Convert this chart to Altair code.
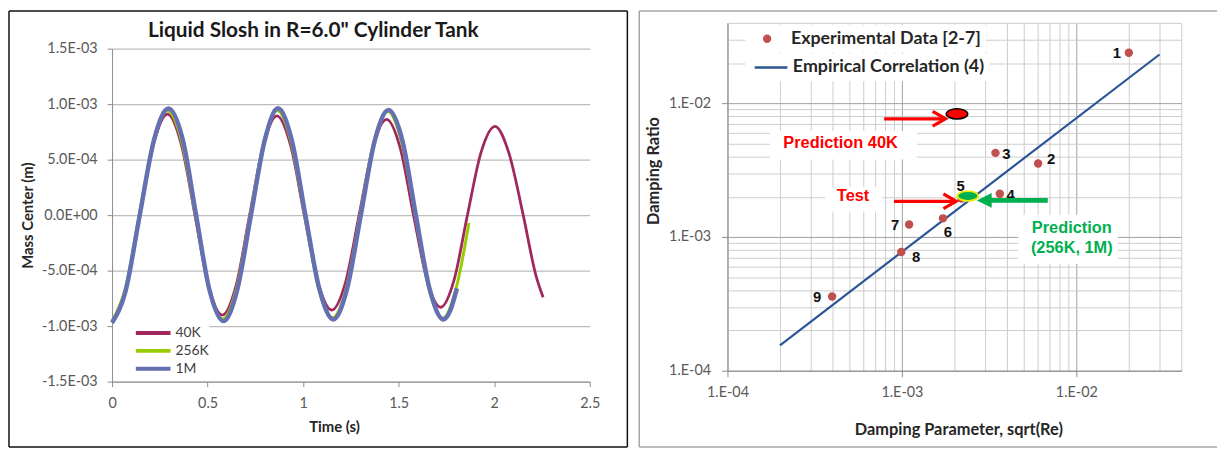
import altair as alt
import pandas as pd

# ================= Left panel: liquid slosh time histories =================
left_title = 'Liquid Slosh in R=6.0" Cylinder Tank'
series_names = ["40K", "256K", "1M"]
series_colors = ["#A0285F", "#99CC00", "#6470B2"]

t_40k = [0.0, 0.07, 0.145, 0.218, 0.29, 0.362, 0.434, 0.505, 0.577, 0.649, 0.72,
         0.792, 0.863, 0.935, 1.006, 1.078, 1.15, 1.222, 1.293, 1.365, 1.437, 1.508,
         1.578, 1.649, 1.72, 1.79, 1.86, 1.932, 2.004, 2.076, 2.152, 2.218, 2.256]
m_40k = [-9.65e-4, -6.8e-4, 0.0, 6.45e-4, 9.1e-4, 6.4e-4, 0.0, -6.35e-4, -9.0e-4, -6.35e-4, 0.0,
         6.3e-4, 8.95e-4, 6.25e-4, 0.0, -6.05e-4, -8.55e-4, -6.05e-4, 0.0, 6.1e-4, 8.62e-4, 6.05e-4,
         0.0, -5.9e-4, -8.3e-4, -5.85e-4, 0.0, 5.7e-4, 8.0e-4, 5.65e-4, 0.0, -5.4e-4, -7.4e-4]

t_256k = [0.0, 0.068, 0.142, 0.216, 0.29, 0.364, 0.436, 0.507, 0.579, 0.651, 0.723,
          0.795, 0.864, 0.936, 1.008, 1.08, 1.153, 1.226, 1.298, 1.37, 1.442, 1.515,
          1.587, 1.658, 1.73, 1.80, 1.868]
m_256k = [-9.55e-4, -6.7e-4, 0.0, 6.65e-4, 9.4e-4, 6.65e-4, 0.0, -6.6e-4, -9.35e-4, -6.6e-4, 0.0,
          6.65e-4, 9.42e-4, 6.65e-4, 0.0, -6.55e-4, -9.25e-4, -6.55e-4, 0.0, 6.6e-4, 9.35e-4, 6.6e-4,
          0.0, -6.6e-4, -9.3e-4, -6.65e-4, -7.0e-5]

t_1m = [0.0, 0.07, 0.145, 0.22, 0.295, 0.37, 0.44, 0.51, 0.583, 0.655, 0.727,
        0.80, 0.868, 0.94, 1.012, 1.085, 1.158, 1.23, 1.302, 1.375, 1.447, 1.52,
        1.59, 1.662, 1.735, 1.77, 1.805]
m_1m = [-9.7e-4, -6.9e-4, 0.0, 6.8e-4, 9.6e-4, 6.8e-4, 0.0, -6.75e-4, -9.55e-4, -6.75e-4, 0.0,
        6.8e-4, 9.62e-4, 6.8e-4, 0.0, -6.65e-4, -9.4e-4, -6.65e-4, 0.0, 6.7e-4, 9.47e-4, 6.7e-4,
        0.0, -6.65e-4, -9.4e-4, -8.6e-4, -6.6e-4]

time_ticks = [0, 0.5, 1, 1.5, 2, 2.5]
time_tick_labels = ["0", "0.5", "1", "1.5", "2", "2.5"]
mass_ticks = [-0.0015, -0.001, -0.0005, 0.0, 0.0005, 0.001, 0.0015]
mass_tick_labels = ["-1.5E-03", "-1.0E-03", "-5.0E-04", "0.0E+00", "5.0E-04", "1.0E-03", "1.5E-03"]

# ================= Right panel: damping ratio vs parameter =================
exp_name = "Experimental Data [2-7]"
corr_name = "Empirical Correlation (4)"
exp_labels = ["1", "2", "3", "4", "5", "6", "7", "8", "9"]
exp_param = [0.0200, 6.04e-3, 3.44e-3, 3.64e-3, 2.20e-3, 1.72e-3, 1.10e-3, 9.92e-4, 3.98e-4]
exp_ratio = [0.0239, 3.55e-3, 4.26e-3, 2.11e-3, 1.94e-3, 1.38e-3, 1.24e-3, 7.72e-4, 3.59e-4]
corr_param = [2.0e-4, 3.0e-2]
corr_ratio = [1.55e-4, 2.32e-2]

pred40k_param = [2.07e-3]
pred40k_ratio = [8.34e-3]
pred256_param = [2.39e-3]
pred256_ratio = [2.03e-3]

log_ticks = [1e-4, 2e-4, 3e-4, 4e-4, 5e-4, 6e-4, 7e-4, 8e-4, 9e-4,
             1e-3, 2e-3, 3e-3, 4e-3, 5e-3, 6e-3, 7e-3, 8e-3, 9e-3,
             1e-2, 2e-2, 3e-2, 4e-2]
decade_ticks = [1e-4, 1e-3, 1e-2]
decade_labels = ["1.E-04", "1.E-03", "1.E-02"]

# annotation texts (centres, data units)
note_text = ["Prediction 40K", "Test", "Prediction", "(256K, 1M)"]
note_x = [4.45e-4, 5.25e-4, 9.42e-3, 9.42e-3]
note_y = [5.07e-3, 2.01e-3, 1.165e-3, 8.30e-4]
note_color = ["red", "red", "green", "green"]

# white boxes behind the annotation texts
box_x1 = [1.75e-4, 3.63e-4, 4.65e-3]
box_x2 = [1.22e-3, 7.74e-4, 1.73e-2]
box_y1 = [6.22e-3, 2.36e-3, 1.47e-3]
box_y2 = [3.80e-3, 1.55e-3, 6.29e-4]

# arrows: start, shaft end, tip, level
arrow_kind = ["red", "red", "green"]
arrow_x0 = [7.91e-4, 9.01e-4, 6.86e-3]
arrow_x1 = [1.75e-3, 2.02e-3, 3.06e-3]
arrow_tip = [1.78e-3, 2.05e-3, 2.69e-3]
arrow_y = [7.66e-3, 1.85e-3, 1.88e-3]

label_offsets = {"1": (-12, 0), "2": (13, -4), "3": (11, 1), "4": (11, 1), "5": (-1, -13),
                 "6": (5, 14), "7": (-14, 0), "8": (15, 5), "9": (-15, 1)}

# ---------------------------------------------------------------------------
FONT = "Lato"
ANN_FONT = "Liberation Sans"


def label_expr(vals, labels, tol):
    parts = [f"abs(datum.value - ({v!r})) < {tol} ? '{lab}'" for v, lab in zip(vals, labels)]
    return " : ".join(parts) + " : ''"


def log_label_expr(vals, labels):
    parts = [f"abs(datum.value / ({v!r}) - 1) < 1e-6 ? '{lab}'" for v, lab in zip(vals, labels)]
    return " : ".join(parts) + " : ''"


one = pd.DataFrame({"k": [0]})


def rule(color, width, **enc):
    return alt.Chart(one).mark_rule(color=color, strokeWidth=width).encode(
        **{k: alt.value(v) for k, v in enc.items()})


# ---------------- left chart ----------------
left_df = pd.concat([
    pd.DataFrame({"t": t_40k, "m": m_40k, "series": "40K"}),
    pd.DataFrame({"t": t_256k, "m": m_256k, "series": "256K"}),
    pd.DataFrame({"t": t_1m, "m": m_1m, "series": "1M"}),
], ignore_index=True)

LW, LH = 482, 362
xs_l = alt.Scale(domain=[0, 2.5], nice=False, zero=False)
ys_l = alt.Scale(domain=[-0.0015, 0.0015], range=[LH, 26], nice=False, zero=False)
axis_gray = "#8C8C8C"

x_axis_l = alt.Axis(values=time_ticks, labelExpr=label_expr(time_ticks, time_tick_labels, 1e-6),
                    title="Time (s)", grid=False, tickSize=5, tickColor=axis_gray,
                    domainColor=axis_gray, labelFont=FONT, labelFontSize=14.5, labelColor="#595959",
                    labelPadding=10, labelFlush=False, labelOverlap=False,
                    titleFont=FONT, titleFontSize=15, titleFontWeight="bold", titleColor="#262626",
                    titleX=224, titleY=45, titleBaseline="middle")
y_axis_l = alt.Axis(values=mass_ticks, labelExpr=label_expr(mass_ticks, mass_tick_labels, 1e-8),
                    title="Mass Center (m)", grid=True, gridColor="#BDBDBD", gridWidth=1.2,
                    tickSize=5, tickColor=axis_gray, domainColor=axis_gray,
                    labelFont=FONT, labelFontSize=14.5, labelColor="#595959", labelPadding=10,
                    labelOverlap=False, titleFont=FONT, titleFontSize=15, titleFontWeight="bold",
                    titleColor="#262626", titleX=-85, titleY=194, titleBaseline="middle")

left_legend = alt.Legend(orient="none", legendX=1, legendY=305, title=None, fillColor="white",
                         padding=0, symbolType="stroke", symbolSize=1225, symbolStrokeWidth=4,
                         clipHeight=16, rowPadding=2, symbolOffset=21, labelOffset=3,
                         labelFont=FONT, labelFontSize=14, labelColor="#404040",
                         labelExpr="datum.label + '\u00a0\u00a0\u00a0\u00a0\u00a0'")
color_l = alt.Color("series:N", scale=alt.Scale(domain=series_names, range=series_colors),
                    legend=left_legend)


def slosh_line(name, width):
    return alt.Chart(left_df).transform_filter(alt.datum.series == name).mark_line(
        strokeWidth=width, interpolate="monotone", strokeJoin="round").encode(
        x=alt.X("t:Q", scale=xs_l, axis=x_axis_l),
        y=alt.Y("m:Q", scale=ys_l, axis=y_axis_l),
        color=color_l,
    )


left_title_mark = alt.Chart(one).mark_text(
    text=left_title, font=FONT, fontSize=21, fontWeight="bold", color="#1A1A1A",
    align="center", baseline="alphabetic").encode(x=alt.value(203), y=alt.value(14))

left = alt.layer(
    rule("#111111", 1.5, x=-104, y=-12, y2=428),
    rule("#111111", 1.5, x=520, y=-12, y2=428),
    rule("#111111", 1.5, x=-104, x2=520, y=-12),
    rule("#111111", 1.5, x=-104, x2=520, y=428),
    slosh_line("40K", 2.8),
    slosh_line("256K", 3.0),
    slosh_line("1M", 4.5),
    left_title_mark,
).properties(width=LW, height=LH)

# ---------------- right chart ----------------
RW, RH = 458, 351
RIGHT_ORIGIN = 619  # right view origin, measured from the left view origin
xs_r = alt.Scale(type="log", domain=[1e-4, 0.04], nice=False)
ys_r = alt.Scale(type="log", domain=[1e-4, 0.04], nice=False)
decade_test = "abs(log(datum.value)/LN10 - round(log(datum.value)/LN10)) < 0.001"
grid_col = {"condition": {"test": decade_test, "value": "#A0A0A0"}, "value": "#CCCCCC"}
tick_col = {"condition": {"test": decade_test, "value": axis_gray}, "value": "transparent"}

x_axis_r = alt.Axis(values=log_ticks, labelExpr=log_label_expr(decade_ticks, decade_labels),
                    title="Damping Parameter, sqrt(Re)", grid=True, gridColor=grid_col,
                    tickColor=tick_col, tickSize=6, domainColor=axis_gray,
                    labelFont=FONT, labelFontSize=14.5, labelColor="#595959", labelPadding=9,
                    labelFlush=False, labelOverlap=False,
                    titleFont=FONT, titleFontSize=16.5, titleFontWeight="bold", titleColor="#262626",
                    titleX=233, titleY=59, titleBaseline="middle")
y_axis_r = alt.Axis(values=log_ticks, labelExpr=log_label_expr(decade_ticks, decade_labels),
                    title="Damping Ratio", grid=True, gridColor=grid_col,
                    tickColor=tick_col, tickSize=6, domainColor=axis_gray,
                    labelFont=FONT, labelFontSize=14.5, labelColor="#595959", labelPadding=11,
                    labelOverlap=False,
                    titleFont=FONT, titleFontSize=16.5, titleFontWeight="bold", titleColor="#262626",
                    titleX=-75, titleY=149, titleBaseline="middle")


def X(field):
    return alt.X(f"{field}:Q", scale=xs_r, axis=x_axis_r)


def Y(field):
    return alt.Y(f"{field}:Q", scale=ys_r, axis=y_axis_r)


exp_df = pd.DataFrame({"x": exp_param, "y": exp_ratio, "label": exp_labels, "series": exp_name})
corr_df = pd.DataFrame({"x": corr_param, "y": corr_ratio, "series": corr_name})
box_df = pd.DataFrame({"x": box_x1, "x2": box_x2, "y": box_y1, "y2": box_y2})
note_df = pd.DataFrame({"x": note_x, "y": note_y, "text": note_text, "c": note_color})
arrow_df = pd.DataFrame({"x": arrow_x0, "x2": arrow_x1, "tip": arrow_tip, "y": arrow_y,
                         "kind": arrow_kind})
p40_df = pd.DataFrame({"x": pred40k_param, "y": pred40k_ratio})
p256_df = pd.DataFrame({"x": pred256_param, "y": pred256_ratio})

exp_legend = alt.Legend(orient="none", legendX=RIGHT_ORIGIN + 20, legendY=2, title=None,
                        fillColor="white", padding=5, symbolType="circle", symbolSize=70,
                        clipHeight=18, symbolOffset=8, labelOffset=15, labelLimit=400,
                        labelFont=FONT, labelFontSize=18, labelFontWeight="bold",
                        labelColor="#262626", labelExpr="datum.label + '\u00a0'")
corr_legend = alt.Legend(orient="none", legendX=RIGHT_ORIGIN + 20, legendY=31, title=None,
                         fillColor="white", padding=5, symbolType="stroke", symbolSize=1089,
                         symbolStrokeWidth=2.5, clipHeight=18, symbolOffset=3, labelOffset=4,
                         labelLimit=400, labelFont=FONT, labelFontSize=18, labelFontWeight="bold",
                         labelColor="#262626", labelExpr="datum.label + '\u00a0'")

corr_color = "#2A5595"
exp_color = "#C0504D"

boxes = alt.Chart(box_df).mark_rect(fill="white").encode(
    x=X("x"), x2="x2:Q", y=Y("y"), y2="y2:Q")
corr_line = alt.Chart(corr_df).mark_line(strokeWidth=2.2).encode(
    x=X("x"), y=Y("y"),
    stroke=alt.Stroke("series:N", scale=alt.Scale(domain=[corr_name], range=[corr_color]),
                      legend=corr_legend))
exp_pts = alt.Chart(exp_df).mark_circle(size=72, opacity=1).encode(
    x=X("x"), y=Y("y"),
    fill=alt.Fill("series:N", scale=alt.Scale(domain=[exp_name], range=[exp_color]),
                  legend=exp_legend))

num_layers = []
for lab, (dx, dy) in label_offsets.items():
    num_layers.append(
        alt.Chart(exp_df).transform_filter(alt.datum.label == lab).mark_text(
            font=ANN_FONT, fontSize=15, fontWeight="bold", color="#111111",
            dx=dx, dy=dy, align="center", baseline="middle").encode(
            x=X("x"), y=Y("y"), text="label:N"))

ellipse_path = "M-1,0 A1,0.47 0 1,0 1,0 A1,0.47 0 1,0 -1,0 Z"
red_ellipse = alt.Chart(p40_df).mark_point(
    shape=ellipse_path, size=470, filled=True, fill="#FF0000", stroke="#000000",
    strokeWidth=1.5, opacity=1).encode(x=X("x"), y=Y("y"))
green_ellipse = alt.Chart(p256_df).mark_point(
    shape=ellipse_path, size=440, filled=True, fill="#00B050", stroke="#E8F000",
    strokeWidth=1.8, opacity=1).encode(x=X("x"), y=Y("y"))

red_shafts = alt.Chart(arrow_df).transform_filter(alt.datum.kind == "red").mark_rule(
    color="#FF0000", strokeWidth=3.2, strokeCap="butt").encode(x=X("x"), x2="x2:Q", y=Y("y"))
red_heads = alt.Chart(arrow_df).transform_filter(alt.datum.kind == "red").mark_point(
    shape="M-2,-1.15 L0,0 L-2,1.15", size=169, filled=False, stroke="#FF0000",
    strokeWidth=3.2, strokeJoin="miter", opacity=1).encode(x=X("tip"), y=Y("y"))
green_shaft = alt.Chart(arrow_df).transform_filter(alt.datum.kind == "green").mark_rule(
    color="#00B050", strokeWidth=5, strokeCap="butt").encode(x=X("x"), x2="x2:Q", y=Y("y"))
green_head = alt.Chart(arrow_df).transform_filter(alt.datum.kind == "green").mark_point(
    shape="M0,0 L2,-1 L2,1 Z", size=225, filled=True, fill="#00B050",
    opacity=1).encode(x=X("tip"), y=Y("y"))

red_notes = alt.Chart(note_df).transform_filter(alt.datum.c == "red").mark_text(
    font=ANN_FONT, fontSize=16.5, fontWeight="bold", color="#FF0000",
    align="center", baseline="middle").encode(x=X("x"), y=Y("y"), text="text:N")
green_notes = alt.Chart(note_df).transform_filter(alt.datum.c == "green").mark_text(
    font=ANN_FONT, fontSize=16.5, fontWeight="bold", color="#00B050",
    align="center", baseline="middle").encode(x=X("x"), y=Y("y"), text="text:N")

panel_gray = "#A6A6A6"
right = alt.layer(
    rule(panel_gray, 1.5, x=-89, y=-12, y2=428),
    rule(panel_gray, 1.5, x=-89, x2=494, y=-12),
    rule(panel_gray, 1.5, x=-89, x2=494, y=428),
    boxes,
    corr_line,
    exp_pts,
    *num_layers,
    red_ellipse,
    green_ellipse,
    red_shafts,
    red_heads,
    green_shaft,
    green_head,
    red_notes,
    green_notes,
).properties(width=RW, height=RH)

chart = alt.hconcat(left, right, spacing=10).properties(
    padding=0, background="white"
).configure_view(stroke=None)

chart.save("out.html", embed_options={"renderer": "svg", "actions": False})
